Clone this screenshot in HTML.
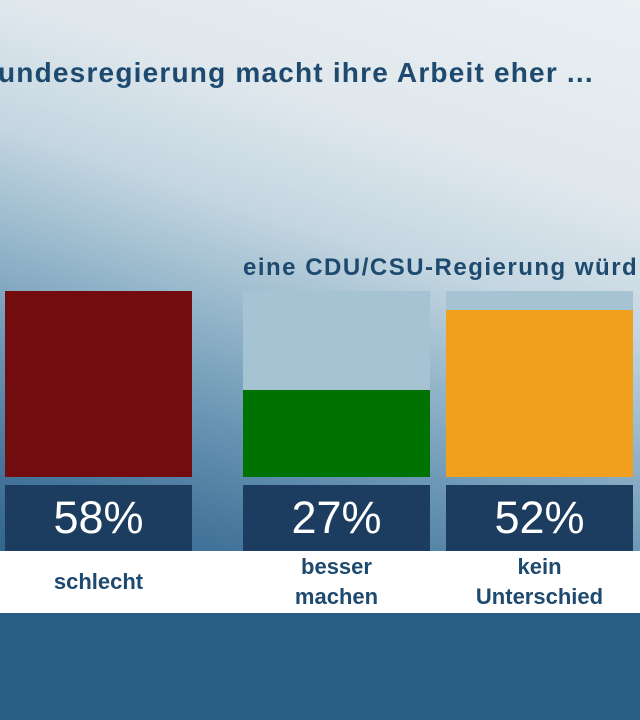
<!DOCTYPE html>
<html><head><meta charset="utf-8"><style>
html,body{margin:0;padding:0}
body{width:640px;height:720px;position:relative;overflow:hidden;font-family:"Liberation Sans",sans-serif;
background:linear-gradient(198deg,#eaeff2 0%,#e0e8ed 22%,#c4d6e1 36%,#96b7cb 48%,#6a96b4 60%,#46769c 72%,#2d5f86 85%,#285a80 100%);}
.a{position:absolute}
.t{left:-2px;top:57px;font-size:28px;font-weight:bold;color:#1d4a6e;white-space:nowrap;letter-spacing:1.2px}
.s{left:243px;top:254px;font-size:24px;font-weight:bold;color:#1d4a6e;white-space:nowrap;letter-spacing:1.5px}
.v{top:485px;height:66px;width:187px;background:#1d3d60;color:#fff;font-size:45px;text-align:center;line-height:66px}
.band{left:0;top:551px;width:640px;height:62px;background:#fff}
.l{top:551px;height:62px;width:187px;color:#1d4a6e;font-weight:bold;font-size:22px;text-align:center;display:flex;align-items:center;justify-content:center;line-height:30px}
</style></head><body>
<div class="a t">undesregierung macht ihre Arbeit eher ...</div>
<div class="a s">eine CDU/CSU-Regierung würd</div>
<div class="a" style="left:5px;top:291px;width:187px;height:186px;background:#720c0f"></div>
<div class="a" style="left:243px;top:291px;width:187px;height:186px;background:#a6c3d3"></div>
<div class="a" style="left:243px;top:390px;width:187px;height:87px;background:#007200"></div>
<div class="a" style="left:446px;top:291px;width:187px;height:186px;background:#a6c3d3"></div>
<div class="a" style="left:446px;top:310px;width:187px;height:167px;background:#f0a01c"></div>
<div class="a v" style="left:5px">58%</div>
<div class="a v" style="left:243px">27%</div>
<div class="a v" style="left:446px">52%</div>
<div class="a band"></div>
<div class="a" style="left:0;top:613px;width:640px;height:107px;background:#2a5d84"></div>
<div class="a l" style="left:5px">schlecht</div>
<div class="a l" style="left:243px">besser<br>machen</div>
<div class="a l" style="left:446px">kein<br>Unterschied</div>
</body></html>
